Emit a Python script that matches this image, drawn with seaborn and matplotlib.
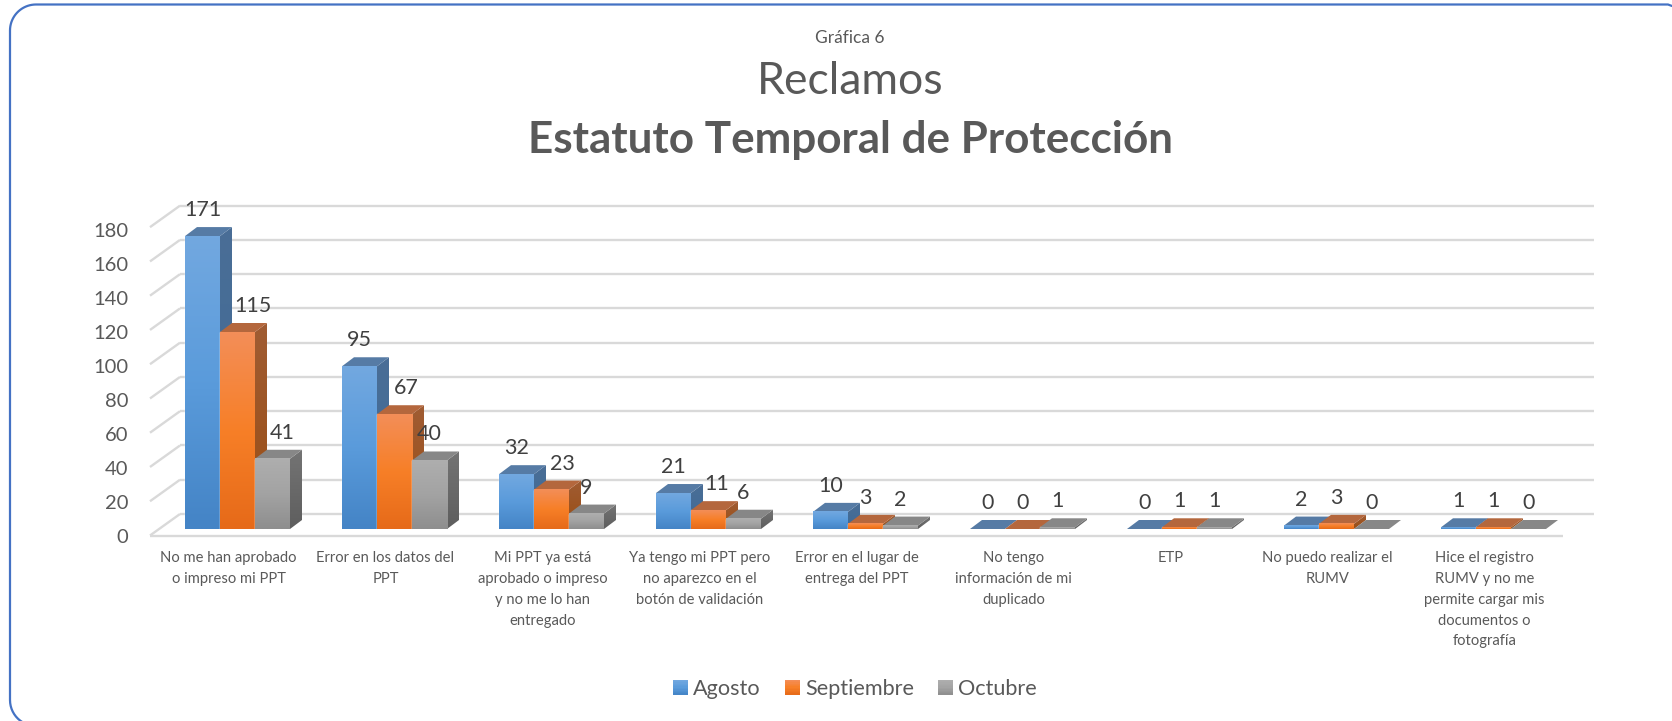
#!/usr/bin/env python3
"""
Gráfica 6: Reclamos del Estatuto Temporal de Protección (3D style columns)
"""

import numpy as np
import pandas as pd
import matplotlib
matplotlib.use('Agg')
import matplotlib.pyplot as plt
import seaborn as sns
from matplotlib.colors import to_rgb
from matplotlib.legend_handler import HandlerBase
from matplotlib.lines import Line2D
from matplotlib.patches import Patch, Polygon, Rectangle
from matplotlib.transforms import Affine2D

W, H = 1672, 721

categories = [
    'No me han aprobado\no impreso mi PPT',
    'Error en los datos del\nPPT',
    'Mi PPT ya está\naprobado o impreso\ny no me lo han\nentregado',
    'Ya tengo mi PPT pero\nno aparezco en el\nbotón de validación',
    'Error en el lugar de\nentrega del PPT',
    'No tengo\ninformación de mi\nduplicado',
    'ETP',
    'No puedo realizar el\nRUMV',
    'Hice el registro\nRUMV y no me\npermite cargar mis\ndocumentos o\nfotografía',
]
months = ['Agosto', 'Septiembre', 'Octubre']
agosto = [171, 95, 32, 21, 10, 0, 0, 2, 1]
septiembre = [115, 67, 23, 11, 3, 0, 1, 3, 1]
octubre = [41, 40, 9, 6, 2, 1, 1, 0, 0]
y_ticks = [0, 20, 40, 60, 80, 100, 120, 140, 160, 180]

# face colours per month
FRONT = {'Agosto': ('#72A8E0', '#5A9BDB', '#4484C6'),
         'Septiembre': ('#F38E58', '#F77F27', '#E66A19'),
         'Octubre': ('#AEAEAE', '#A3A3A3', '#8E8E8E')}
SIDE = {'Agosto': ('#4A6E96', '#3E6A96'),
        'Septiembre': ('#A05C33', '#9A4E14'),
        'Octubre': ('#747474', '#5E5E5E')}
TOP = {'Agosto': '#567BA5', 'Septiembre': '#B4673D', 'Octubre': '#878787'}
TEXT = '#595959'
LABEL_SHIFT = {(0, 1): 15, (0, 2): 10, (1, 1): 12, (2, 1): 11, (3, 1): 8}

# pixel layout of the plot
AX_LEFT, AX_RIGHT = 159, 1572
Y_ZERO = 529
PX_PER_UNIT = 1.713
PX_PER_CAT = 157.0
DEPTH_X = 12 / PX_PER_CAT
DEPTH_Y = 9 / PX_PER_UNIT
Y_MIN, Y_MAX = -10, 200

sns.set_style("white")
plt.rcParams['font.family'] = ['Lato', 'DejaVu Sans']


def gradient(stops):
    """Vertical colour ramp, first stop at the top"""
    rgb = np.array([to_rgb(c) for c in stops])
    t = np.linspace(0, 1, 64)
    s = np.linspace(0, 1, len(stops))
    return np.stack([np.interp(t, s, rgb[:, i]) for i in range(3)], axis=1)[:, None, :]


class GradientHandler(HandlerBase):
    """Legend swatch with the same ramp as the columns"""

    def create_artists(self, legend, orig, xd, yd, width, height, fontsize, trans):
        ramp = gradient(FRONT[orig.get_label()])[::6, 0]
        n = len(ramp)
        return [Rectangle((-xd, -yd + height * (n - 1 - i) / n), width, height / n + 0.2,
                          facecolor=c, edgecolor='none', transform=trans)
                for i, c in enumerate(ramp)]


def px_x(px):
    """Pixel column to category axis position"""
    return (px - AX_LEFT) / PX_PER_CAT - 0.5


def draw_walls(ax):
    """Back wall, side wall and floor lines of the 3D box"""
    grid = dict(color='#D9D9D9', lw=1.7, clip_on=False, zorder=1, solid_capstyle='butt')
    back = (Y_ZERO - 514) / PX_PER_UNIT
    front = (Y_ZERO - 535.5) / PX_PER_UNIT
    for v in y_ticks:
        ax.plot([px_x(180), px_x(1594)], [v + back, v + back], **grid)
        ax.plot([px_x(150), px_x(180)], [v + front, v + back], **grid)
    ax.plot([px_x(150), px_x(1563)], [front, front], **grid)


def draw_columns(ax):
    """Turn the flat seaborn bars into shaded 3D columns"""
    for s, container in enumerate(ax.containers):
        month = months[s]
        z = 3 + s
        for g, bar in enumerate(container):
            x0, x1 = bar.get_x(), bar.get_x() + bar.get_width()
            h = bar.get_height()
            bar.set_zorder(z)
            if h > 0:
                ax.imshow(gradient(FRONT[month]), extent=(x0, x1, 0, h), aspect='auto',
                          interpolation='bilinear', zorder=z + 0.2)
                side = Polygon([(x1, 0), (x1 + DEPTH_X, DEPTH_Y),
                                (x1 + DEPTH_X, h + DEPTH_Y), (x1, h)],
                               transform=ax.transData, facecolor='none', edgecolor='none')
                ax.add_patch(side)
                im = ax.imshow(gradient(SIDE[month]), extent=(x1, x1 + DEPTH_X, 0, h + DEPTH_Y),
                               aspect='auto', interpolation='bilinear', zorder=z + 0.1)
                im.set_clip_path(side)
            ax.add_patch(Polygon([(x0, h), (x0 + DEPTH_X, h + DEPTH_Y),
                                  (x1 + DEPTH_X, h + DEPTH_Y), (x1, h)],
                                 facecolor=TOP[month], edgecolor='none', zorder=z + 0.1))
            shift = LABEL_SHIFT.get((g, s), 0) / PX_PER_CAT
            ax.text((x0 + x1) / 2 + shift, h + 26 / PX_PER_UNIT, str(int(h)), ha='center',
                    va='center', fontsize=15.5, color='#404040', zorder=10, clip_on=False)


def draw_frame(fig):
    """Rounded blue frame, it runs off the right and bottom edges"""
    to_fig = Affine2D().scale(1 / W, -1 / H).translate(0, 1) + fig.transFigure
    left, top, r = 10, 4.5, 26
    a = np.linspace(np.pi / 2, np.pi, 20)
    xs = np.concatenate([[W, W - 4, left + r], left + r + r * np.cos(a), [left]])
    ys = np.concatenate([[top + 1.5, top, top], top + r - r * np.sin(a), [H - 21]])
    b = np.linspace(np.pi, 1.33 * np.pi, 10)
    xs = np.concatenate([xs, left + r + r * np.cos(b)])
    ys = np.concatenate([ys, H - 21 - r * np.sin(b)])
    fig.add_artist(Line2D(xs, ys, color='#4472C4', lw=1.6, transform=to_fig))


def main():
    df = pd.DataFrame({
        'reclamo': categories * 3,
        'mes': np.repeat(months, len(categories)),
        'valor': agosto + septiembre + octubre,
    })

    fig = plt.figure(figsize=(W / 100, H / 100), dpi=100)
    ax_bottom = Y_ZERO - Y_MIN * PX_PER_UNIT
    ax = fig.add_axes([AX_LEFT / W, 1 - ax_bottom / H, (AX_RIGHT - AX_LEFT) / W,
                       (Y_MAX - Y_MIN) * PX_PER_UNIT / H])
    ax.patch.set_alpha(0)

    sns.barplot(data=df, x='reclamo', y='valor', hue='mes', order=categories, hue_order=months,
                palette=[FRONT[m][1] for m in months], width=105 / PX_PER_CAT, gap=0,
                saturation=1, legend=False, ax=ax)
    draw_walls(ax)
    draw_columns(ax)

    sns.despine(ax=ax, left=True, bottom=True)
    ax.set_xlabel('')
    ax.set_ylabel('')

    # x labels sit a bit left of the columns, y labels follow the front edge
    ax.set_xticks(np.arange(9) - 9 / PX_PER_CAT)
    ax.set_xticklabels(categories, fontsize=10.6, color=TEXT, linespacing=1.62)
    ax.set_yticks((np.array(y_ticks) * 1.7 - 7) / PX_PER_UNIT)
    ax.set_yticklabels(y_ticks, fontsize=14.5, color=TEXT)
    ax.tick_params(axis='x', length=0, pad=3.6)
    ax.tick_params(axis='y', length=0, pad=22)

    # ticks widen the view, so the limits come last
    ax.set_xlim(-0.5, 8.5)
    ax.set_ylim(Y_MIN, Y_MAX)

    fig.text(850 / W, 1 - 38 / H, 'Gráfica 6', ha='center', va='center', fontsize=12.5, color=TEXT)
    fig.text(850 / W, 1 - 81 / H, 'Reclamos', ha='center', va='center', fontsize=32, color=TEXT)
    fig.text(850 / W, 1 - 140 / H, 'Estatuto Temporal de Protección', ha='center', va='center',
             fontsize=31.7, fontweight='bold', color=TEXT)

    handles = [Patch(label=m) for m in months]
    fig.legend(handles=handles, handler_map={Patch: GradientHandler()}, loc='center',
               bbox_to_anchor=(855 / W, 1 - 689 / H), ncol=3, frameon=False, fontsize=15.6,
               labelcolor=TEXT, handlelength=0.68, handleheight=0.68, handletextpad=0.25,
               columnspacing=1.1)

    draw_frame(fig)

    plt.savefig('out.png', dpi=100)
    plt.close()


if __name__ == "__main__":
    main()
